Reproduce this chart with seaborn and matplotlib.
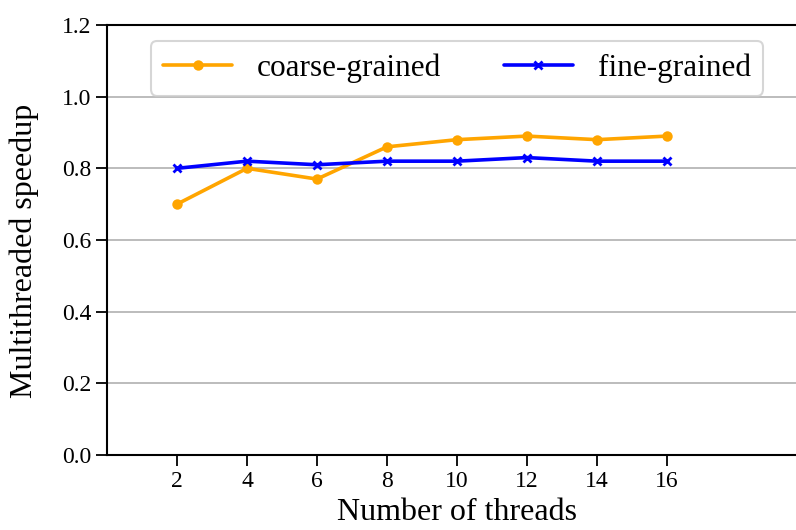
import matplotlib
matplotlib.use("Agg")
import matplotlib.pyplot as plt
import seaborn as sns
import pandas as pd

threads = [2, 4, 6, 8, 10, 12, 14, 16]
coarse_grained = [0.70, 0.80, 0.77, 0.86, 0.88, 0.89, 0.88, 0.89]
fine_grained = [0.80, 0.82, 0.81, 0.82, 0.82, 0.83, 0.82, 0.82]
series_names = ["coarse-grained", "fine-grained"]
x_ticks = [2, 4, 6, 8, 10, 12, 14, 16]
y_ticks = [0.0, 0.2, 0.4, 0.6, 0.8, 1.0, 1.2]

sns.set_style("ticks")
plt.rcParams["font.family"] = ["Liberation Serif", "DejaVu Serif"]
plt.rcParams["text.color"] = "black"
plt.rcParams["axes.labelcolor"] = "black"
plt.rcParams["xtick.color"] = "black"
plt.rcParams["ytick.color"] = "black"

df = pd.DataFrame({"threads": threads, "coarse": coarse_grained, "fine": fine_grained})

fig = plt.figure(figsize=(7.96, 5.30), dpi=100)
ax = fig.add_axes([107 / 796, 75 / 530, 700 / 796, 430 / 530])

sns.lineplot(data=df, x="threads", y="coarse", ax=ax, color="orange",
             marker="o", markersize=7.5, markeredgewidth=0, linewidth=2.6,
             label=series_names[0])
sns.lineplot(data=df, x="threads", y="fine", ax=ax, color="blue",
             marker="x", markersize=6, markeredgewidth=2, markeredgecolor="blue",
             linewidth=2.6, label=series_names[1])

ax.set_xlim(0, 20)
ax.set_ylim(0, 1.2)
ax.set_xticks(x_ticks)
ax.set_yticks(y_ticks)
ax.set_yticklabels([f"{v:.1f}" for v in y_ticks])
ax.yaxis.grid(True, color="#b0b0b0", linewidth=1.2)
ax.set_axisbelow(True)
for side in ("left", "bottom", "top"):
    ax.spines[side].set_linewidth(1.5)
    ax.spines[side].set_color("black")
ax.spines["right"].set_visible(False)
ax.tick_params(axis="both", labelsize=17, length=8, width=1.3, direction="out", color="black")

ax.set_xlabel("Number of threads", fontsize=23, labelpad=4)
ax.set_ylabel("Multithreaded speedup", fontsize=23)
ax.yaxis.set_label_coords(-0.097, 0.475)

leg = ax.legend(loc="upper center", bbox_to_anchor=(350 / 700, 1 - 16 / 430),
                borderaxespad=0, ncol=2, fontsize=22.5, frameon=True, fancybox=True,
                columnspacing=2.0, handlelength=2.2, borderpad=0.4)
leg.get_frame().set_edgecolor("#cccccc")
leg.get_frame().set_linewidth(1.5)

fig.savefig("out.png", dpi=100)
